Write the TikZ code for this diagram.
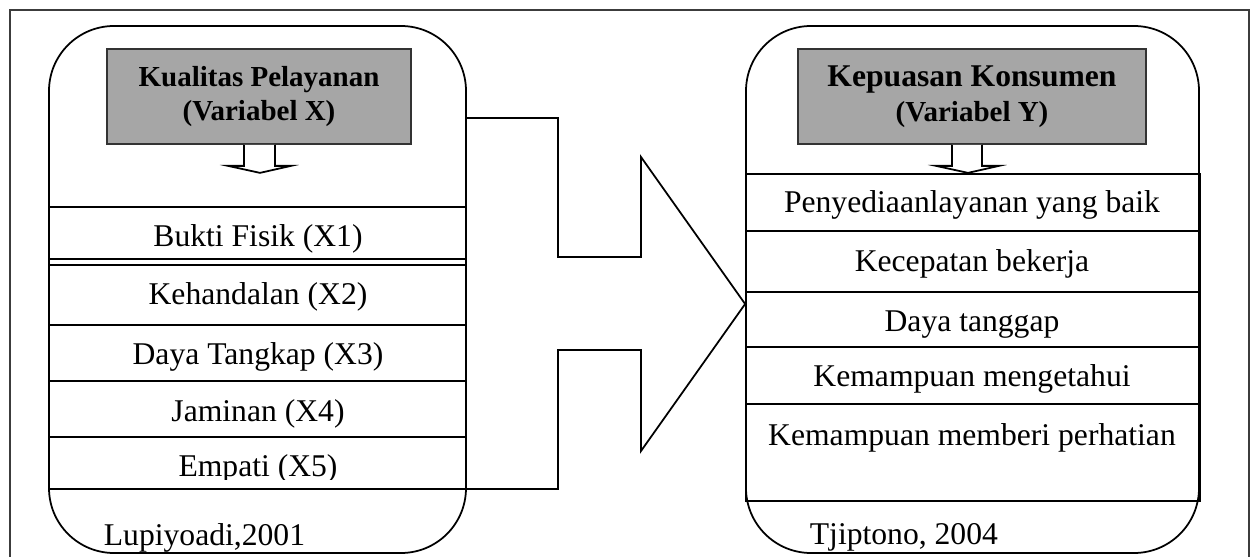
\documentclass[tikz,border=0pt]{standalone}
\usepackage{fontspec}
\setmainfont{Liberation Serif}
\usepackage{tikz}
\usetikzlibrary{positioning}
\definecolor{hdgray}{RGB}{166,166,166}
\definecolor{framegray}{RGB}{60,60,60}

\begin{document}
\begin{tikzpicture}[x=0.2mm, y=-0.2mm, line width=1pt,
  panel/.style={draw, rounded corners=13mm, minimum height=105.4mm, inner sep=0pt},
  header/.style={draw=black!80, fill=hdgray, align=center, inner sep=0pt, minimum height=19mm},
  item/.style={anchor=base, inner sep=0pt, font=\fontsize{18}{21}\selectfont},
  source/.style={anchor=base west, inner sep=0pt, font=\fontsize{18}{21}\selectfont}]
\useasboundingbox (0,0) rectangle (1256,557);
% Outer frame
\draw[framegray] (10,557) -- (10,10) -- (1249,10) -- (1249,557);
% Panels
\node[panel, minimum width=83.4mm] (panelX) at (257.5,289.5) {};
\node[panel, minimum width=90.6mm] (panelY) at (972.5,289.5) {};
% Variable X
\node[header, minimum width=60.8mm, font=\bfseries\fontsize{16.5}{19.3}\selectfont] (headerX) at (259,96.5) {Kualitas Pelayanan\\(Variabel X)};
\draw[fill=white] (headerX.south) ++(-15,0) -- ++(0,21) -- ++(-16,0) -- ++(32,7) -- ++(31,-7) -- ++(-16,0) -- ++(0,-21);
\draw (49,207) rectangle (466,259);
\draw (49,265) rectangle (466,325);
\draw (49,325) rectangle (466,381);
\draw (49,381) rectangle (466,437);
\draw (49,437) rectangle (466,489);
\node[item] (itemX1) at (258,247) {Bukti Fisik (X1)};
\node[item] (itemX2) at (258,305) {Kehandalan (X2)};
\node[item] (itemX3) at (258,365) {Daya Tangkap (X3)};
\node[item] (itemX4) at (258,422) {Jaminan (X4)};
\begin{scope}
\clip (49,437) rectangle (466,479);
\node[item] (itemX5) at (258,477) {Empati (X5)};
\end{scope}
\node[source] (srcX) at (103,545) {Lupiyoadi,2001};
% Variable Y
\node[header, minimum width=69.6mm, font=\bfseries\fontsize{16.5}{19.8}\selectfont] (headerY) at (972,96.5) {{\fontsize{18}{19.8}\selectfont Kepuasan Konsumen}\\(Variabel Y)};
\draw[fill=white] (headerY.south) ++(-20,0) -- ++(0,21) -- ++(-16,0) -- ++(32,7) -- ++(31,-7) -- ++(-17,0) -- ++(0,-21);
\draw (746,174) rectangle (1200,231);
\draw (746,231) rectangle (1200,292);
\draw (746,292) rectangle (1200,347);
\draw (746,347) rectangle (1200,404);
\draw (746,404) rectangle (1200,501);
\node[item] (itemY1) at (972,213) {Penyediaanlayanan yang baik};
\node[item] (itemY2) at (972,272) {Kecepatan bekerja};
\node[item] (itemY3) at (972,332) {Daya tanggap};
\node[item] (itemY4) at (972,387) {Kemampuan mengetahui};
\node[item] (itemY5) at (972,445) {Kemampuan memberi perhatian};
\node[source] (srcY) at (809,544) {Tjiptono, 2004};
% Block arrow X -> Y
\draw (panelX.east |- 0,118) -- (558,118) -- (558,257) -- (641,257) -- (641,157)
  -- (panelY.west |- 0,304) -- (641,451) -- (641,350) -- (558,350) -- (558,489)
  -- (panelX.east |- 0,489);
\end{tikzpicture}
\end{document}
